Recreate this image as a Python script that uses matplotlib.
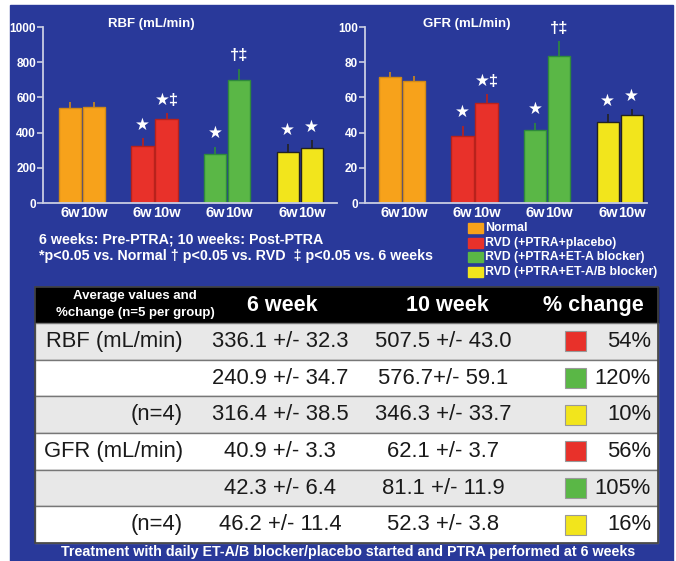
import numpy as np
import matplotlib.pyplot as plt
from matplotlib.patches import Rectangle

plt.rcParams['font.family'] = ['Liberation Sans', 'DejaVu Sans']

groups = ['Normal', 'RVD (+PTRA+placebo)', 'RVD (+PTRA+ET-A blocker)', 'RVD (+PTRA+ET-A/B blocker)']
colors = ['#f7a21b', '#e8312a', '#5ab746', '#f2e51c']
edges = ['#d08a18', '#b8221c', '#2f8a3c', '#222222']

rbf_6w = [538, 326, 277, 292]
rbf_6w_err = [37, 42, 44, 44]
rbf_10w = [547, 477, 698, 315]
rbf_10w_err = [28, 32, 66, 43]

gfr_6w = [71.4, 38.1, 41.3, 46.1]
gfr_6w_err = [3.3, 5.7, 4.4, 4.4]
gfr_10w = [69.5, 57.1, 83.8, 50.1]
gfr_10w_err = [2.9, 4.8, 8.0, 3.2]

marks_6w = ['', '\u2605', '\u2605', '\u2605']
marks_10w = ['', '\u2605\u2021', '\u2020\u2021', '\u2605']

row_labels = ['RBF (mL/min)', '', '(n=4)', 'GFR (mL/min)', '', '(n=4)']
week6 = ['336.1 +/- 32.3', '240.9 +/- 34.7', '316.4 +/- 38.5', '40.9 +/- 3.3', '42.3 +/- 6.4', '46.2 +/- 11.4']
week10 = ['507.5 +/- 43.0', '576.7+/- 59.1', '346.3 +/- 33.7', '62.1 +/- 3.7', '81.1 +/- 11.9', '52.3 +/- 3.8']
pct = ['54%', '120%', '10%', '56%', '105%', '16%']
pct_colors = ['#e8312a', '#5ab746', '#f2e51c', '#e8312a', '#5ab746', '#f2e51c']

W, H = 676, 561
blue = '#29399a'
axcol = '#c9cde3'

fig = plt.figure(figsize=(W / 100, H / 100), dpi=100)
fig.patch.set_facecolor('white')

# full-figure canvas in pixel coords
bg = fig.add_axes([0, 0, 1, 1])
bg.set_xlim(0, W)
bg.set_ylim(H, 0)
bg.axis('off')
bg.add_patch(Rectangle((10, 5), 663, 560, color=blue, zorder=0))


def bar_panel(left, right, ymax, vals6, err6, vals10, err10, first, title, title_x):
    ax = fig.add_axes([left / W, (H - 203) / H, (right - left) / W, 176 / H])
    ax.set_facecolor('none')
    span = 72.6
    x = np.arange(4)
    off = 0.165
    w = 0.31
    ax.bar(x - off, vals6, w, color=colors, edgecolor=edges, linewidth=1)
    ax.bar(x + off, vals10, w, color=colors, edgecolor=edges, linewidth=1)
    for i in range(4):
        ax.errorbar(x[i] - off, vals6[i], yerr=[[0], [err6[i]]], color=edges[i], lw=1.2, capsize=0)
        ax.errorbar(x[i] + off, vals10[i], yerr=[[0], [err10[i]]], color=edges[i], lw=1.2, capsize=0)
        if marks_6w[i]:
            ax.annotate(marks_6w[i], (x[i] - off, vals6[i] + err6[i]), xytext=(0, 4),
                        textcoords='offset points', ha='center', va='bottom',
                        color='white', fontsize=12, fontweight='bold')
        if marks_10w[i]:
            ax.annotate(marks_10w[i], (x[i] + off, vals10[i] + err10[i]), xytext=(0, 4),
                        textcoords='offset points', ha='center', va='bottom',
                        color='white', fontsize=12, fontweight='bold')
    ax.set_xlim(-first / span, (right - left - first) / span)
    ax.set_ylim(0, ymax)
    ax.set_yticks(np.linspace(0, ymax, 6))
    ax.set_yticklabels([str(int(v)) for v in np.linspace(0, ymax, 6)])
    ax.set_xticks(np.concatenate([x - off, x + off]))
    ax.set_xticklabels(['6w'] * 4 + ['10w'] * 4)
    for s in ['top', 'right']:
        ax.spines[s].set_visible(False)
    for s in ['left', 'bottom']:
        ax.spines[s].set_color(axcol)
        ax.spines[s].set_linewidth(1.3)
    ax.tick_params(axis='y', colors=axcol, length=4, width=1.2, pad=1, labelsize=8.5, labelcolor='white')
    ax.tick_params(axis='x', length=0, pad=2, labelsize=10.5, labelcolor='white')
    for t in ax.get_yticklabels() + ax.get_xticklabels():
        t.set_fontweight('bold')
    bg.text(title_x, 24, title, color='white', fontsize=9.5, fontweight='bold', ha='center', va='center')
    return ax


bar_panel(43, 337, 1000, rbf_6w, rbf_6w_err, rbf_10w, rbf_10w_err, 39, 'RBF (mL/min)', 151)
bar_panel(365, 647, 100, gfr_6w, gfr_6w_err, gfr_10w, gfr_10w_err, 37, 'GFR (mL/min)', 467)

# notes
bg.text(39, 239, '6 weeks: Pre-PTRA; 10 weeks: Post-PTRA', color='white', fontsize=10.3,
        fontweight='bold', va='center')
bg.text(39, 256, '*p<0.05 vs. Normal \u2020 p<0.05 vs. RVD  \u2021 p<0.05 vs. 6 weeks', color='white',
        fontsize=10.3, fontweight='bold', va='center')

# legend
for i, g in enumerate(groups):
    yy = 228 + i * 14.7
    bg.add_patch(Rectangle((468, yy - 5), 15, 10, color=colors[i], zorder=2))
    bg.text(485, yy, g, color='white', fontsize=8.8, fontweight='bold', va='center')

# table
tl, tr = 35, 658
top, hbot = 287, 323
rh = (543 - hbot) / 6
bg.add_patch(Rectangle((tl, top), tr - tl, hbot - top, color='black', zorder=1))
bg.text(135, 296, 'Average values and', color='white', fontsize=9.5, fontweight='bold', ha='center', va='center')
bg.text(135, 313, '%change (n=5 per group)', color='white', fontsize=9.5, fontweight='bold', ha='center', va='center')
bg.text(282, 305, '6 week', color='white', fontsize=15.5, fontweight='bold', ha='center', va='center')
bg.text(447, 305, '10 week', color='white', fontsize=15.5, fontweight='bold', ha='center', va='center')
bg.text(593, 305, '% change', color='white', fontsize=15.5, fontweight='bold', ha='center', va='center')

for i in range(6):
    y0 = hbot + i * rh
    fc = '#e8e8e8' if i % 2 == 0 else 'white'
    bg.add_patch(Rectangle((tl, y0), tr - tl, rh, facecolor=fc, edgecolor='#777777', lw=1, zorder=1))
    yc = y0 + rh / 2
    bg.text(183, yc, row_labels[i], fontsize=15.8, color='#1a1a1a', ha='right', va='center')
    bg.text(280, yc, week6[i], fontsize=15.8, color='#1a1a1a', ha='center', va='center')
    bg.text(443, yc, week10[i], fontsize=15.8, color='#1a1a1a', ha='center', va='center')
    bg.add_patch(Rectangle((565, yc - 10), 21, 20, facecolor=pct_colors[i], edgecolor='#999999', lw=0.8, zorder=2))
    bg.text(651, yc, pct[i], fontsize=15.8, color='#1a1a1a', ha='right', va='center')

bg.add_patch(Rectangle((tl, top), tr - tl, 543 - top, fill=False, edgecolor='#444444', lw=1.2, zorder=3))

bg.text(348, 552, 'Treatment with daily ET-A/B blocker/placebo started and PTRA performed at 6 weeks',
        color='white', fontsize=10.3, fontweight='bold', ha='center', va='center')

plt.savefig('out.png', dpi=100)
